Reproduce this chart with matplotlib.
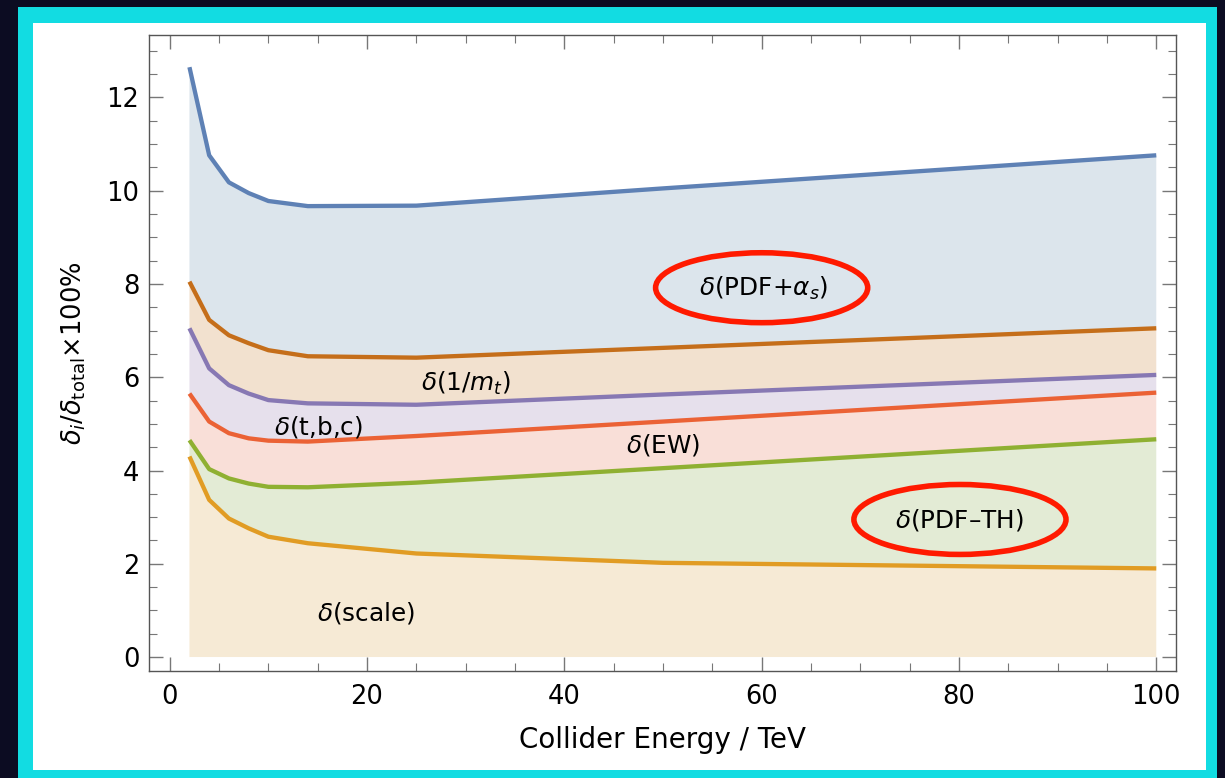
import numpy as np
import matplotlib
matplotlib.use("Agg")
import matplotlib.pyplot as plt
from matplotlib.patches import Rectangle, Ellipse

# collider energies (TeV) and the cumulative uncertainty contributions (%)
energy = [2, 4, 6, 8, 10, 14, 25, 50, 100]
scale = [4.30, 3.37, 2.97, 2.76, 2.58, 2.44, 2.22, 2.02, 1.90]
pdf_th = [4.65, 4.03, 3.83, 3.72, 3.65, 3.64, 3.74, 4.05, 4.67]
ew = [5.65, 5.05, 4.80, 4.69, 4.64, 4.62, 4.74, 5.05, 5.67]
tbc = [7.05, 6.19, 5.83, 5.65, 5.51, 5.44, 5.41, 5.63, 6.05]
mt = [8.05, 7.23, 6.90, 6.73, 6.58, 6.45, 6.42, 6.63, 7.05]
pdf_as = [12.65, 10.76, 10.18, 9.95, 9.78, 9.67, 9.68, 10.05, 10.76]

curves = [scale, pdf_th, ew, tbc, mt, pdf_as]
line_colors = ["#E19C24", "#8FB032", "#EB6235", "#8778B3", "#C56E1A", "#5E81B5"]
fill_colors = ["#F6EAD5", "#E3EBD5", "#F9DFD8", "#E6E0EC", "#F2E1CF", "#DCE5EC"]

band_labels = [r"$\delta$(scale)", r"$\delta$(PDF–TH)", r"$\delta$(EW)",
               r"$\delta$(t,b,c)", r"$\delta$(1/$m_t$)", r"$\delta$(PDF+$\alpha_s$)"]
label_x = [19.9, 80.0, 50.0, 15.1, 30.0, 60.2]
label_y = [0.94, 2.94, 4.55, 4.94, 5.87, 7.90]

W, H = 1225, 778
fig = plt.figure(figsize=(W / 100, H / 100), dpi=100)
fig.patch.set_facecolor("#0c0c22")

# cyan frame and white panel behind the plot
fig.patches.append(Rectangle((18 / W, 0), (1217 - 18) / W, 1 - 7 / H,
                             transform=fig.transFigure, facecolor="#12DCE2",
                             edgecolor="none", zorder=-2))
fig.patches.append(Rectangle((33 / W, 1 - 770 / H), (1206 - 33) / W, (770 - 23) / H,
                             transform=fig.transFigure, facecolor="white",
                             edgecolor="none", zorder=-1))

ax = fig.add_axes([149 / W, 1 - 671 / H, (1176 - 149) / W, (671 - 35) / H])
ax.set_facecolor("none")

x = np.array(energy)
lower = np.zeros(len(energy))
for vals, fc in zip(curves, fill_colors):
    ax.fill_between(x, lower, vals, facecolor=fc, edgecolor="none", zorder=1)
    lower = np.array(vals)

for vals, lc in zip(curves, line_colors):
    ax.plot(x, vals, color=lc, lw=3.1, solid_joinstyle="round",
            solid_capstyle="butt", zorder=3)

for txt, tx, ty in zip(band_labels, label_x, label_y):
    ax.text(tx, ty, txt, fontsize=17.8, ha="center", va="center", zorder=5)

# highlighted contributions
for cx, cy in [(60.0, 7.92), (80.1, 2.95)]:
    ax.add_patch(Ellipse((cx, cy), 21.5, 1.50, facecolor="none",
                         edgecolor="#FF1A00", lw=4.0, zorder=6))

ax.set_xlim(-2.1, 102.0)
ax.set_ylim(-0.30, 13.34)
ax.set_xticks([0, 20, 40, 60, 80, 100])
ax.set_xticks(np.arange(0, 101, 5), minor=True)
ax.set_yticks([0, 2, 4, 6, 8, 10, 12])
ax.set_yticks(np.arange(0, 13.1, 0.5), minor=True)

for s in ax.spines.values():
    s.set_color("#555555")
    s.set_linewidth(1.0)
ax.tick_params(which="both", direction="in", top=True, right=True,
               color="#777777", labelsize=18.5, labelcolor="black")
ax.tick_params(which="major", length=10, width=1.0)
ax.tick_params(which="minor", length=6, width=0.8)
ax.tick_params(axis="x", pad=9)
ax.tick_params(axis="y", pad=7)

ax.set_xlabel("Collider Energy / TeV", fontsize=20, labelpad=12)
ax.set_ylabel(r"$\delta_i/\delta_{\rm total}$×100%", fontsize=18.5, labelpad=13)

fig.savefig("out.png", dpi=100, facecolor=fig.get_facecolor())
